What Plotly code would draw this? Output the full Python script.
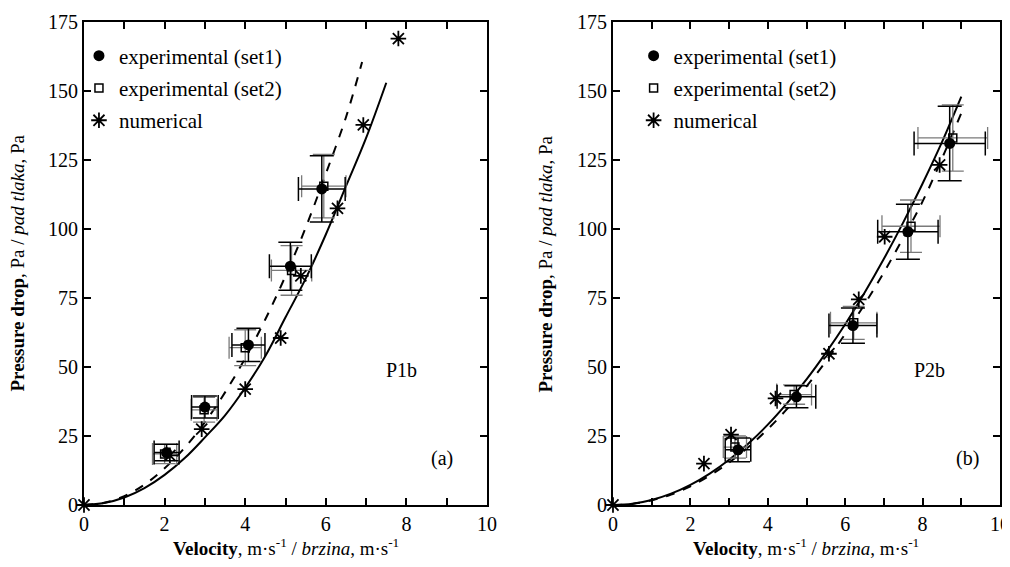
import plotly.graph_objects as go

# ---- panel (a) P1b ----
a_set1_x = [2.05, 3.0, 4.08, 5.12, 5.9]
a_set1_y = [19, 35.5, 58, 86.5, 114.5]
a_set1_ex = [0.31, 0.33, 0.41, 0.52, 0.58]
a_set1_ey = [3, 4, 6, 8.7, 12]

a_set2_x = [2.0, 2.98, 4.0, 5.15, 5.95]
a_set2_y = [18.5, 34.5, 57, 85, 115.5]
a_set2_ex = [0.3, 0.32, 0.4, 0.5, 0.55]
a_set2_ey = [3.5, 4.5, 6.5, 9, 11.5]

a_num_x = [0, 2.13, 2.92, 4.0, 4.88, 5.38, 6.29, 6.93, 7.8]
a_num_y = [0, 18, 27.5, 42, 60.5, 83, 107.5, 137.7, 169]

a_solid_x = [0, 0.5, 1, 1.5, 2, 2.5, 3, 3.5, 4, 4.5, 5, 5.5, 6, 6.5, 7, 7.5]
a_solid_y = [0, 0.7, 2.7, 6.1, 10.9, 17, 24.5, 32.5, 42.5, 54, 68, 82, 98, 115.5, 133, 153]

a_dash_x = [0, 0.5, 1, 1.5, 2, 2.5, 3, 3.5, 4, 4.5, 5, 5.5, 6, 6.5, 6.9]
a_dash_y = [0, 0.8, 3.2, 7.4, 13.3, 20.8, 30, 40.8, 53.2, 67.3, 83, 100.5, 120, 140.5, 160.5]

# ---- panel (b) P2b ----
b_set1_x = [3.23, 4.74, 6.2, 7.62, 8.7]
b_set1_y = [20, 39.2, 65, 99, 131]
b_set1_ex = [0.33, 0.5, 0.62, 0.78, 0.92]
b_set1_ey = [4.3, 4, 6.4, 10, 13.5]

b_set2_x = [3.15, 4.68, 6.22, 7.7, 8.78]
b_set2_y = [21, 40, 66, 101, 133]
b_set2_ex = [0.3, 0.45, 0.6, 0.75, 0.9]
b_set2_ey = [4, 3.5, 6, 9.5, 12]

b_num_x = [0, 2.35, 3.05, 4.2, 5.58, 6.35, 7.02, 8.44]
b_num_y = [0, 15, 25.5, 38.6, 54.8, 74.5, 97.2, 123.2]

b_solid_x = [0, 0.5, 1, 1.5, 2, 2.5, 3, 3.5, 4, 4.5, 5, 5.5, 6, 6.5, 7, 7.5, 8, 8.5, 9]
b_solid_y = [0, 0.45, 1.8, 4.1, 7.3, 11.4, 16.4, 22.3, 29.1, 36.9, 45.5, 55.1, 65.5, 76.9, 89.2, 102.4, 116.5, 131.5, 148]

b_dash_x = [0, 0.5, 1, 1.5, 2, 2.5, 3, 3.5, 4, 4.5, 5, 5.5, 6, 6.5, 7, 7.5, 8, 8.5, 9]
b_dash_y = [0, 0.4, 1.7, 3.8, 6.8, 10.7, 15.4, 21, 27.5, 34.8, 43, 52, 62, 72.7, 84.3, 96.8, 110, 125.5, 142]

x_ticks = [0, 2, 4, 6, 8, 10]
y_ticks = [0, 25, 50, 75, 100, 125, 150, 175]

FONT = "Liberation Serif, Times New Roman, serif"
SET2_COL = "#7a7a7a"

fig = go.Figure()


def add_panel(xa, ya, leg, s1, s2, num, solid, dash):
    # fitted curves
    fig.add_trace(go.Scatter(x=solid[0], y=solid[1], mode="lines", line_shape="spline",
                             line=dict(color="black", width=2), showlegend=False,
                             xaxis=xa, yaxis=ya, hoverinfo="skip"))
    fig.add_trace(go.Scatter(x=dash[0], y=dash[1], mode="lines", line_shape="spline",
                             line=dict(color="black", width=2, dash="dash"), showlegend=False,
                             xaxis=xa, yaxis=ya, hoverinfo="skip"))
    # experimental set2 (behind set1)
    fig.add_trace(go.Scatter(x=s2[0], y=s2[1], mode="markers", name="experimental (set2)",
                             marker=dict(symbol="square-open", size=8, color="black", line=dict(width=1.5)),
                             error_x=dict(type="data", array=s2[2], color=SET2_COL, thickness=1.3, width=11),
                             error_y=dict(type="data", array=s2[3], color=SET2_COL, thickness=1.3, width=11),
                             xaxis=xa, yaxis=ya, legend=leg, legendgroup=leg + "b", legendrank=2))
    # experimental set1
    fig.add_trace(go.Scatter(x=s1[0], y=s1[1], mode="markers", name="experimental (set1)",
                             marker=dict(symbol="circle", size=11, color="black"),
                             error_x=dict(type="data", array=s1[2], color="black", thickness=1.5, width=12),
                             error_y=dict(type="data", array=s1[3], color="black", thickness=1.5, width=12),
                             xaxis=xa, yaxis=ya, legend=leg, legendgroup=leg + "a", legendrank=1))
    # numerical
    fig.add_trace(go.Scatter(x=num[0], y=num[1], mode="markers", name="numerical",
                             marker=dict(symbol="asterisk-open", size=13, color="black",
                                         line=dict(width=1.8, color="black")),
                             cliponaxis=False,
                             xaxis=xa, yaxis=ya, legend=leg, legendgroup=leg + "c", legendrank=3))


add_panel("x", "y", "legend",
          (a_set1_x, a_set1_y, a_set1_ex, a_set1_ey),
          (a_set2_x, a_set2_y, a_set2_ex, a_set2_ey),
          (a_num_x, a_num_y), (a_solid_x, a_solid_y), (a_dash_x, a_dash_y))
add_panel("x2", "y2", "legend2",
          (b_set1_x, b_set1_y, b_set1_ex, b_set1_ey),
          (b_set2_x, b_set2_y, b_set2_ex, b_set2_ey),
          (b_num_x, b_num_y), (b_solid_x, b_solid_y), (b_dash_x, b_dash_y))

ax_common = dict(showline=True, linecolor="black", linewidth=2, mirror="ticks",
                 ticks="inside", ticklen=7, tickwidth=1.5, tickcolor="black",
                 showgrid=False, zeroline=False, automargin=False,
                 ticklabeloverflow="allow",
                 tickfont=dict(family=FONT, size=20, color="black"))

xa = dict(ax_common, range=[0, 10], tickvals=x_ticks,
          minor=dict(dtick=1, ticks="inside", ticklen=7, tickwidth=1.5, tickcolor="black"))
ya = dict(ax_common, range=[0, 175], tickvals=y_ticks)

leg_common = dict(font=dict(family=FONT, size=21, color="black"), bgcolor="rgba(0,0,0,0)",
                  tracegroupgap=2, traceorder="grouped", itemwidth=30,
                  xanchor="left", yanchor="top")

x_title = "<b>Velocity</b>, m·s<sup>-1</sup> / <i>brzina</i>, m·s<sup>-1</sup>"
y_title = "<b>Pressure drop</b>, Pa / <i>pad tlaka</i>, Pa"

ann = []
for xd, yd in [("x domain", "y domain"), ("x2 domain", "y2 domain")]:
    ann.append(dict(text=x_title, xref=xd, yref=yd, x=0.5, y=0, yshift=-42,
                    xanchor="center", yanchor="middle", showarrow=False,
                    font=dict(family=FONT, size=19, color="black")))
    ann.append(dict(text=y_title, xref=xd, yref=yd, x=0, y=0.5, xshift=-67, textangle=-90,
                    xanchor="center", yanchor="middle", showarrow=False,
                    font=dict(family=FONT, size=19, color="black")))
ann.append(dict(text="P1b", xref="x", yref="y", x=7.88, y=49, showarrow=False,
                font=dict(family=FONT, size=20, color="black")))
ann.append(dict(text="(a)", xref="x", yref="y", x=8.88, y=17, showarrow=False,
                font=dict(family=FONT, size=20, color="black")))
ann.append(dict(text="P2b", xref="x2", yref="y2", x=8.18, y=49, showarrow=False,
                font=dict(family=FONT, size=20, color="black")))
ann.append(dict(text="(b)", xref="x2", yref="y2", x=9.16, y=17, showarrow=False,
                font=dict(family=FONT, size=20, color="black")))

# figure sized so the page (8px body margin) needs no scrollbars
fig.update_layout(
    width=1002, height=551,
    margin=dict(l=76, r=10, t=14, b=54, autoexpand=False),
    paper_bgcolor="white", plot_bgcolor="white",
    xaxis=dict(xa, domain=[0, 0.44], anchor="y"),
    yaxis=dict(ya, domain=[0, 1], anchor="x"),
    xaxis2=dict(xa, domain=[0.5775, 1], anchor="y2"),
    yaxis2=dict(ya, domain=[0, 1], anchor="x2"),
    legend=dict(leg_common, x=-0.0055, y=0.972),
    legend2=dict(leg_common, x=0.6, y=0.972),
    annotations=ann,
    font=dict(family=FONT, color="black"),
)

fig.write_html("out.html")
